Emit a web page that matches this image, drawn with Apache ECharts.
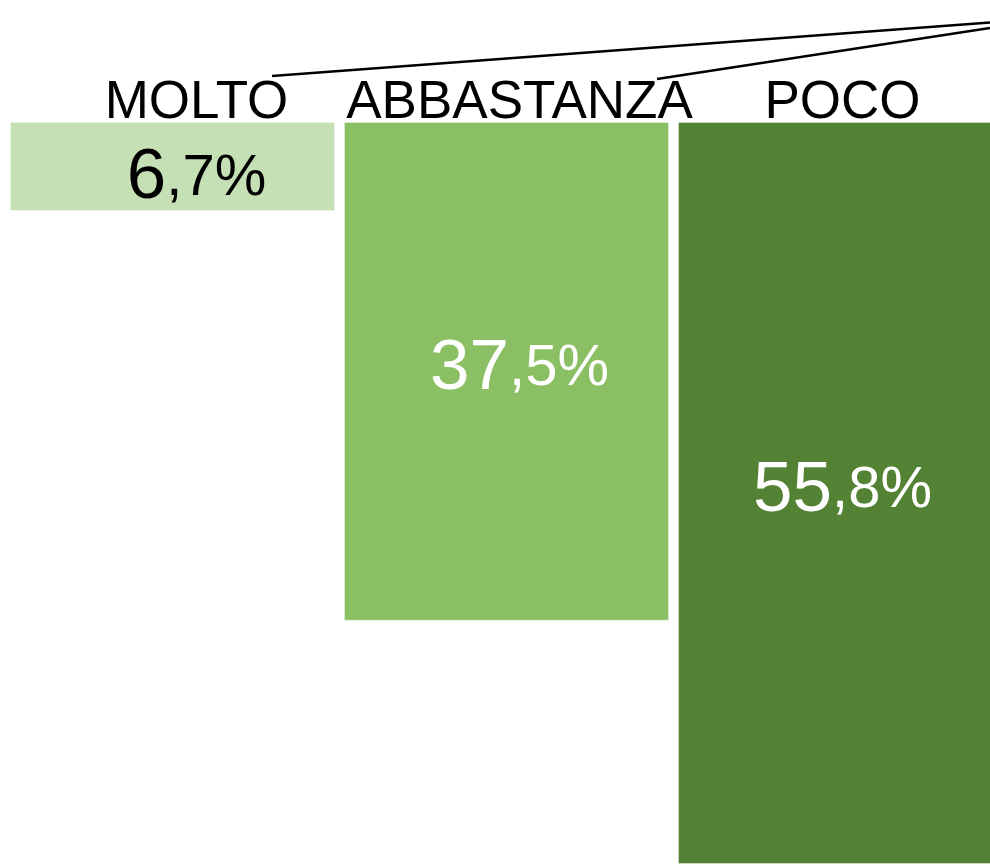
<!DOCTYPE html>
<html>
<head>
<meta charset="utf-8">
<script src="https://cdn.jsdelivr.net/npm/echarts@6/dist/echarts.min.js"></script>
<style>
html,body{margin:0;padding:0;background:#fff;}
#chart{width:990px;height:864px;}
</style>
</head>
<body>
<div id="chart"></div>
<script>
const categories = ['MOLTO', 'ABBASTANZA', 'POCO'];
const values = [6.7, 37.5, 55.8];
const barColors = ['#C5E0B4', '#8BBF64', '#548235'];
const valueLabelColors = ['#000000', '#ffffff', '#ffffff'];

const FONT = '"Liberation Sans", Arial, sans-serif';
const chart = echarts.init(document.getElementById('chart'), null, {renderer: 'canvas'});

const yMax = Math.max(...values);

function fmt(p) {
  const parts = p.value.toFixed(1).split('.');
  return '{b|' + parts[0] + '}{s|,' + parts[1] + '%}';
}

chart.setOption({
  backgroundColor: '#ffffff',
  animation: false,
  grid: [
    {left: 5.5, top: 122, width: 1002, height: 742, outerBoundsMode: 'none', containLabel: false},
    {left: 35, top: 122, width: 969, height: 742, outerBoundsMode: 'none', containLabel: false}
  ],
  xAxis: [
    {gridIndex: 0, type: 'category', data: categories, show: false},
    {gridIndex: 1, type: 'category', data: categories, position: 'top',
     axisLine: {show: false}, axisTick: {show: false}, splitLine: {show: false},
     axisLabel: {fontFamily: FONT, fontSize: 53, color: '#000', margin: -8, interval: 0}}
  ],
  yAxis: [
    {gridIndex: 0, type: 'value', inverse: true, min: 0, max: yMax, show: false},
    {gridIndex: 1, type: 'value', inverse: true, min: 0, max: yMax, show: false}
  ],
  series: [
    {
      type: 'bar', xAxisIndex: 0, yAxisIndex: 0, barWidth: 325, silent: true,
      data: values.map((v, i) => ({value: v, itemStyle: {color: barColors[i], borderColor: 'rgba(255,255,255,0.35)', borderWidth: 1}}))
    },
    {
      type: 'bar', xAxisIndex: 1, yAxisIndex: 1, barWidth: 300, silent: true,
      itemStyle: {color: 'rgba(0,0,0,0)'},
      data: values.map((v, i) => ({value: v, label: {color: valueLabelColors[i], offset: i === 0 ? [0, 12] : [0, -2]}})),
      label: {
        show: true, position: 'inside', formatter: fmt,
        rich: {
          b: {fontFamily: FONT, fontSize: 71},
          s: {fontFamily: FONT, fontSize: 58}
        }
      }
    }
  ],
  graphic: [
    {type: 'line', shape: {x1: 272, y1: 76, x2: 990, y2: 22.5}, style: {stroke: '#000', lineWidth: 2.5}, z: 100},
    {type: 'line', shape: {x1: 657, y1: 79, x2: 990, y2: 28}, style: {stroke: '#000', lineWidth: 2.5}, z: 100}
  ]
});
</script>
</body>
</html>
